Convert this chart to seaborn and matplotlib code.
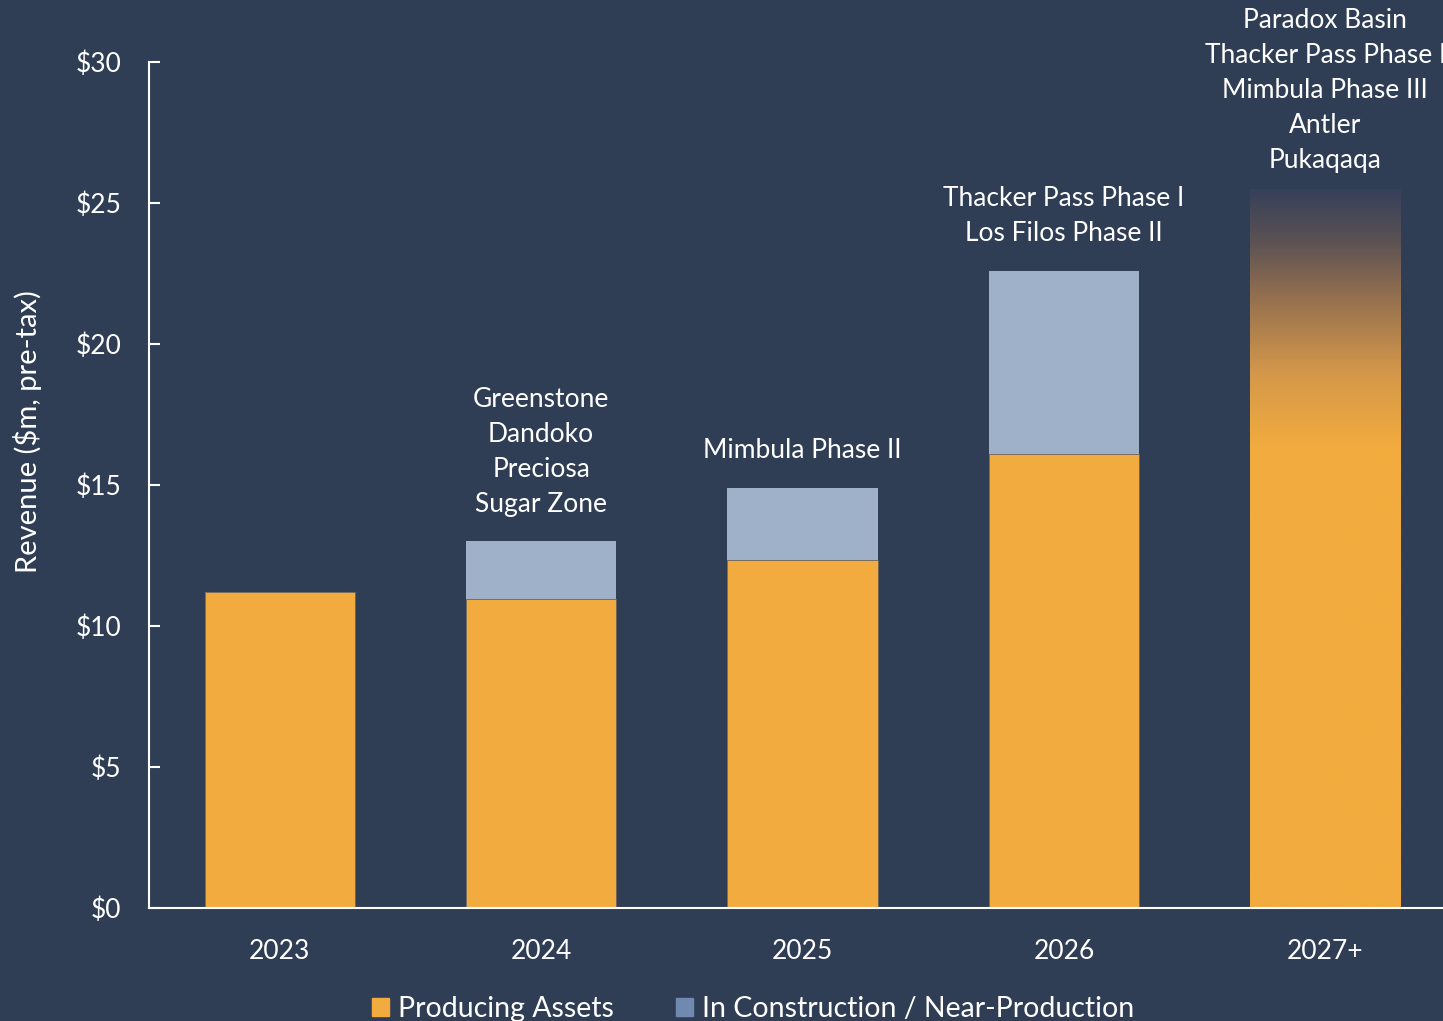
import matplotlib
matplotlib.use('Agg')
import matplotlib.pyplot as plt
import seaborn as sns
import numpy as np
import pandas as pd
from matplotlib.colors import LinearSegmentedColormap
from matplotlib.patches import Patch

# Datos
years = ['2023', '2024', '2025', '2026', '2027+']
producing = [11.2, 10.95, 12.35, 16.1, 25.5]
construction = [0.0, 2.05, 2.55, 6.5, 0.0]
notes = [
    [],
    ['Greenstone', 'Dandoko', 'Preciosa', 'Sugar Zone'],
    ['Mimbula Phase II'],
    ['Thacker Pass Phase I', 'Los Filos Phase II'],
    ['Paradox Basin', 'Thacker Pass Phase I', 'Mimbula Phase III', 'Antler', 'Pukaqaqa'],
]
yticks = [0, 5, 10, 15, 20, 25, 30]

bg = '#2F3E55'
orange = '#F2AB3E'
blue_bar = '#9FB0C9'
blue_leg = '#7089B0'

df = pd.DataFrame({'year': years, 'producing': producing, 'construction': construction})
df['total'] = df['producing'] + df['construction']

sns.set_theme(style='white')
plt.rcParams['font.family'] = ['Lato', 'DejaVu Sans']

fig = plt.figure(figsize=(14.43, 10.21), dpi=100, facecolor=bg)
ax = fig.add_axes([149 / 1443, 1 - 908 / 1021, 1 - 149 / 1443, (908 - 62) / 1021])
ax.set_facecolor(bg)

# Barras apiladas: total (azul) y luego producing (naranja)
sns.barplot(data=df, x='year', y='total', color=blue_bar, width=0.575,
            saturation=1, ax=ax, linewidth=0)
sns.barplot(data=df, x='year', y='producing', color=orange, width=0.575,
            saturation=1, ax=ax, linewidth=0.6, edgecolor='#6a625a')

# Degradado para 2027+
last = ax.patches[-1]
last.set_facecolor('none')
last.set_edgecolor('none')
x0 = last.get_x()
w = last.get_width()
h = last.get_height()
cmap = LinearSegmentedColormap.from_list('fade', [
    (0.0, orange), (0.64, orange), (0.74, '#D6994A'), (0.85, '#94704F'),
    (0.93, '#5A5154'), (1.0, '#36405A')])
grad = np.linspace(0, 1, 256).reshape(-1, 1)
im = ax.imshow(grad, cmap=cmap, origin='lower', aspect='auto',
               extent=[x0, x0 + w, 0, h], zorder=2)
im.set_clip_path(last)

ax.set_xlim(-0.5, 4.45)
ax.set_ylim(0, 30)
ax.set_yticks(yticks)
ax.set_yticklabels([f'${v}' for v in yticks])

for s in ['top', 'right']:
    ax.spines[s].set_visible(False)
for s in ['left', 'bottom']:
    ax.spines[s].set_color('white')
    ax.spines[s].set_linewidth(1.5)

ax.tick_params(axis='y', direction='in', length=8, width=1.5, color='white',
               labelcolor='white', labelsize=19, pad=20, left=True)
ax.tick_params(axis='x', length=0, labelcolor='white', labelsize=19, pad=22)
ax.set_xlabel('')
ax.set_ylabel('Revenue ($m, pre-tax)', color='white', fontsize=21)
ax.yaxis.set_label_coords(-0.083, 0.563)

# Anotaciones (separacion en pixeles sobre cada barra)
gaps = [37, 37, 37, 37, 28]
for i, lines in enumerate(notes):
    top = df['total'][i]
    for k, txt in enumerate(reversed(lines)):
        ax.annotate(txt, xy=(i, top), xytext=(0, gaps[i] + 35 * k),
                    textcoords='offset pixels', ha='center', va='center',
                    color='white', fontsize=19, annotation_clip=False)

handles = [Patch(color=orange, label='Producing Assets'),
           Patch(color=blue_leg, label='In Construction / Near-Production')]
fig.legend(handles=handles, loc='center', bbox_to_anchor=(0.522, 0.012), ncol=2,
           frameon=False, fontsize=20.5, labelcolor='white', handlelength=0.6,
           handleheight=0.6, handletextpad=0.3, columnspacing=2.2)

fig.savefig('out.png', dpi=100, facecolor=bg)
